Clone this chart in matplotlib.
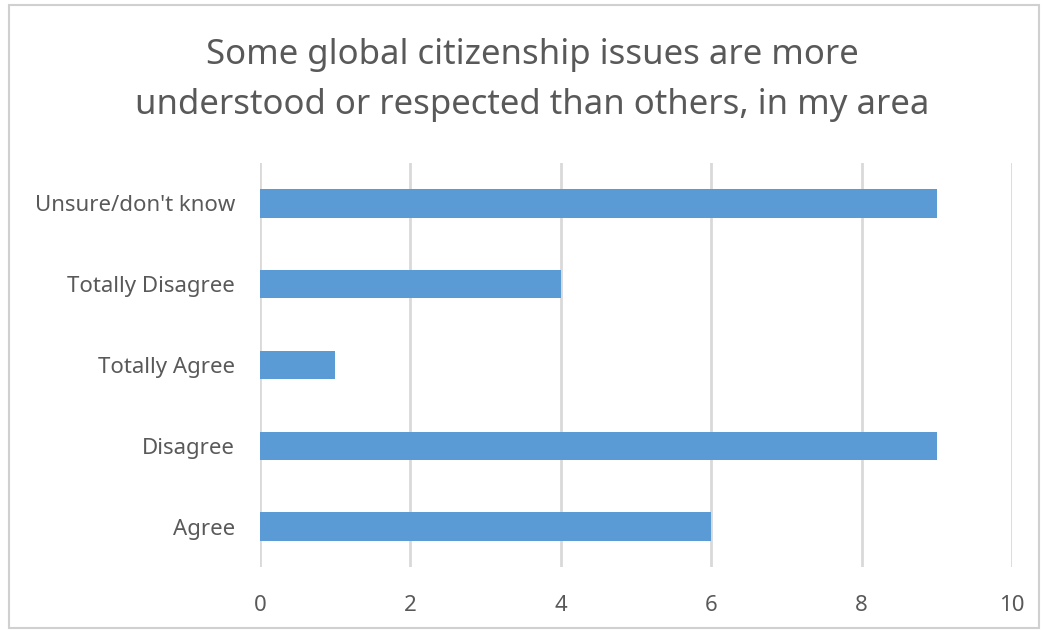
import matplotlib
matplotlib.use("Agg")
import matplotlib.pyplot as plt
from matplotlib.patches import Rectangle

categories = ["Agree", "Disagree", "Totally Agree", "Totally Disagree", "Unsure/don't know"]
values = [6, 9, 1, 4, 9]
xticks = [0, 2, 4, 6, 8, 10]
title = "Some global citizenship issues are more\nunderstood or respected than others, in my area"

plt.rcParams['font.family'] = ['Noto Sans', 'DejaVu Sans']
fig = plt.figure(figsize=(10.42, 6.3), dpi=100)
ax = fig.add_axes([260/1042, 1-567/630, (1012-260)/1042, (567-163)/630])

ypos = list(range(len(categories)))
ax.barh(ypos, values, height=0.35, color='#5B9BD5', zorder=3)
ax.set_xlim(0, 10)
ax.set_ylim(-0.5, len(categories)-0.5)
ax.set_xticks(xticks)
ax.set_xticklabels([str(t) for t in xticks])
ax.set_yticks(ypos)
ax.set_yticklabels(categories)
ax.tick_params(axis='both', length=0, labelsize=16, colors='#595959')
ax.tick_params(axis='x', pad=20)
ax.tick_params(axis='y', pad=18)
ax.grid(axis='x', color='#D9D9D9', linewidth=2, zorder=0)
for s in ax.spines.values():
    s.set_visible(False)

fig.text(532/1042, 1-80/630, title, ha='center', va='center', fontsize=25,
         color='#595959', linespacing=1.65)

fig.patches.append(Rectangle((9/1042, 2/630), 1030/1042, 1-7/630, transform=fig.transFigure,
                             fill=False, edgecolor='#D0D0D0', linewidth=1.5))

fig.savefig("out.png", dpi=100)
